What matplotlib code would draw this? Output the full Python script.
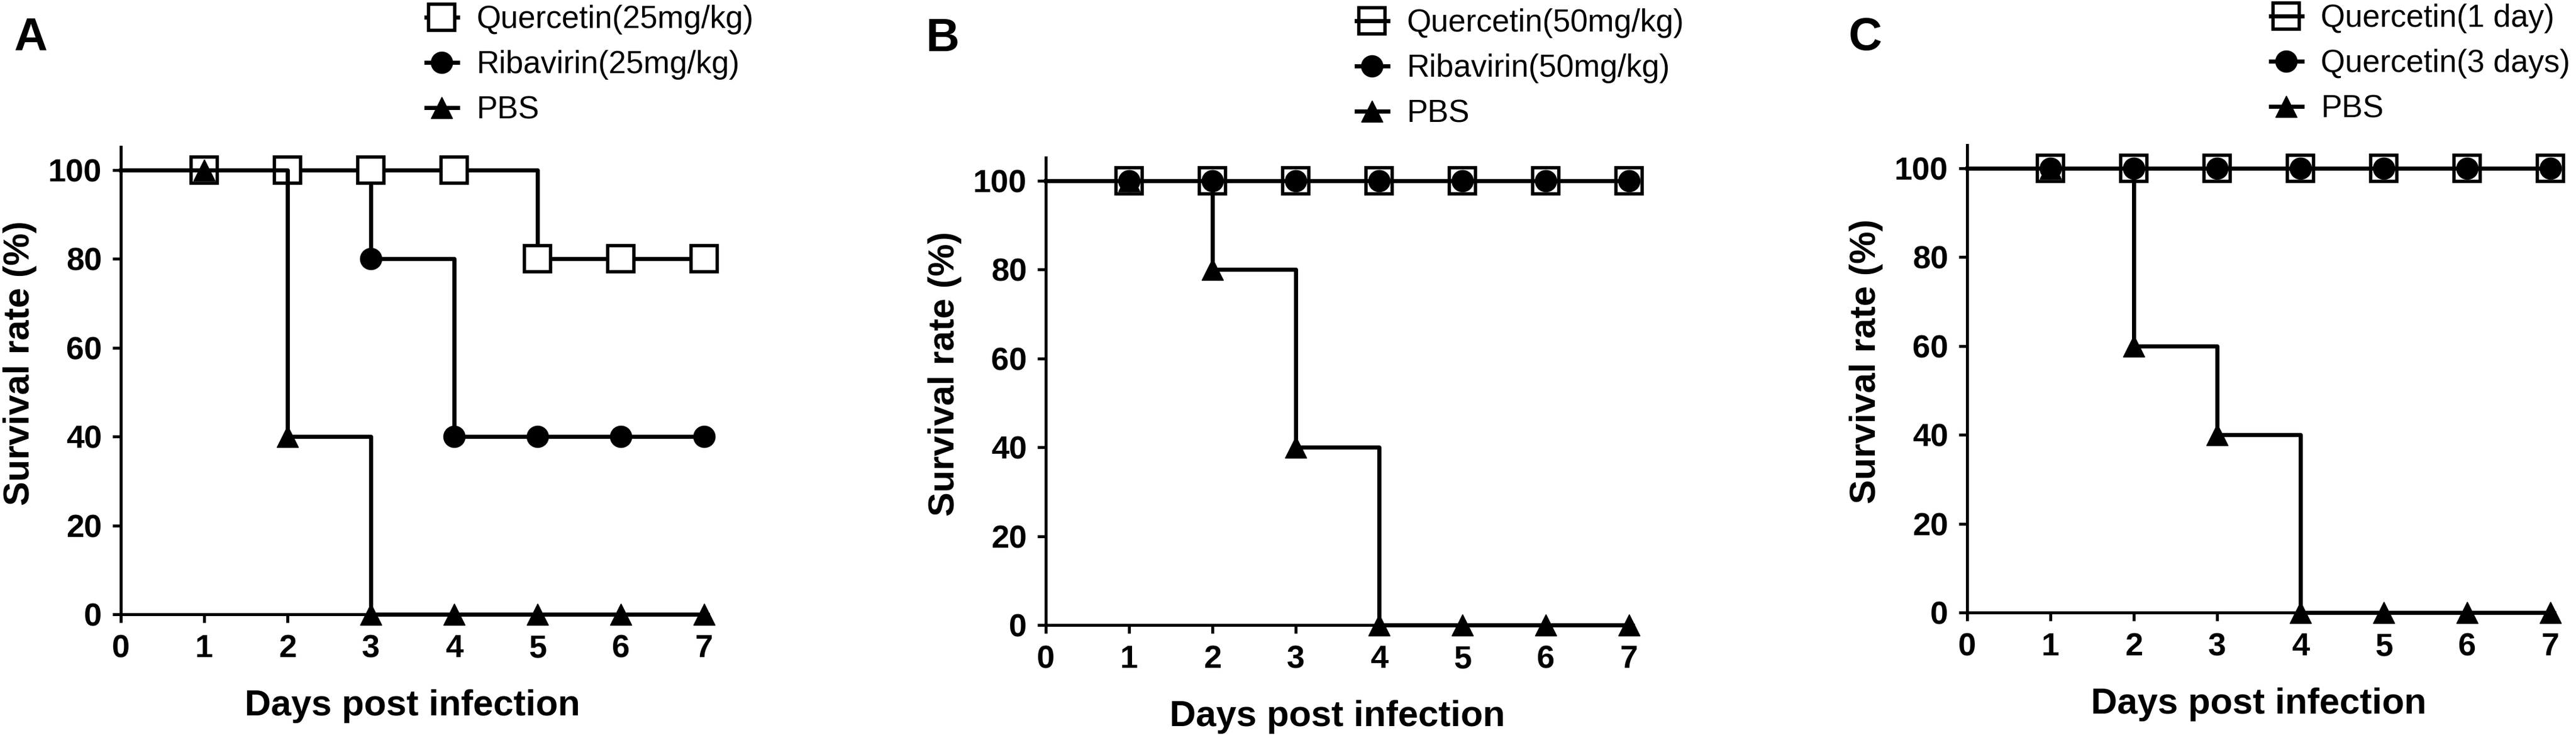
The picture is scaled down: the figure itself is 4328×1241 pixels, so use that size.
"""Survival curves for three treatment groups (panels A, B, C)"""

import matplotlib
matplotlib.use("Agg")
import matplotlib.pyplot as plt
from matplotlib.lines import Line2D

plt.rcParams["font.family"] = ["Liberation Sans", "DejaVu Sans"]

W, H = 4328, 1241

# data: day 0 is the start of the step line, markers from day 1
days = [0, 1, 2, 3, 4, 5, 6, 7]

a_labels = ["Quercetin(25mg/kg)", "Ribavirin(25mg/kg)", "PBS"]
a_quercetin = [100, 100, 100, 100, 100, 80, 80, 80]
a_ribavirin = [100, 100, 100, 80, 40, 40, 40, 40]
a_pbs = [100, 100, 40, 0, 0, 0, 0, 0]

b_labels = ["Quercetin(50mg/kg)", "Ribavirin(50mg/kg)", "PBS"]
b_quercetin = [100, 100, 100, 100, 100, 100, 100, 100]
b_ribavirin = [100, 100, 100, 100, 100, 100, 100, 100]
b_pbs = [100, 100, 80, 40, 0, 0, 0, 0]

c_labels = ["Quercetin(1 day)", "Quercetin(3 days)", "PBS"]
c_quercetin_1 = [100, 100, 100, 100, 100, 100, 100, 100]
c_quercetin_3 = [100, 100, 100, 100, 100, 100, 100, 100]
c_pbs = [100, 100, 60, 40, 0, 0, 0, 0]

y_ticks = [0, 20, 40, 60, 80, 100]
x_ticks = [0, 1, 2, 3, 4, 5, 6, 7]

LW = 5.0
TICK_FS = 39
LABEL_FS = 44
LEGEND_FS = 38


def px(x, y_top):
    """pixel position (from top-left) -> figure fraction"""
    return x / W, 1 - y_top / H


fig = plt.figure(figsize=(W / 100, H / 100), dpi=100)

# axes left/bottom in pixels, legend top-left in pixels from the top
panels = [
    dict(letter="A", left=203, bottom=208, letter_x=23, letter_y=84,
         leg_x=716, leg_y=8,
         series=[a_quercetin, a_ribavirin, a_pbs], labels=a_labels,
         sq_fill="white", z=(4, 3, 5)),
    dict(letter="B", left=1757, bottom=190, letter_x=1556, letter_y=86,
         leg_x=2279, leg_y=14,
         series=[b_quercetin, b_ribavirin, b_pbs], labels=b_labels,
         sq_fill="none", z=(4, 5, 3)),
    dict(letter="C", left=3305, bottom=211, letter_x=3106, letter_y=84,
         leg_x=3815, leg_y=6,
         series=[c_quercetin_1, c_quercetin_3, c_pbs], labels=c_labels,
         sq_fill="none", z=(4, 5, 3)),
]

XMAX = 7.05
YMAX = 105.2
AX_W = XMAX * 140
AX_H = YMAX * 7.47

for p in panels:
    ax = fig.add_axes([p["left"] / W, p["bottom"] / H, AX_W / W, AX_H / H])
    styles = [
        dict(marker="s", ms=31, mfc=p["sq_fill"], mew=4.0),
        dict(marker="o", ms=26, mfc="black", mew=1.0),
        dict(marker="^", ms=26, mfc="black", mew=1.0),
    ]
    handles = []
    for vals, st, z in zip(p["series"], styles, p["z"]):
        ax.plot(days, vals, drawstyle="steps-post", color="black",
                lw=LW, marker=st["marker"], ms=st["ms"],
                mfc=st["mfc"], mec="black", mew=st["mew"],
                markevery=list(range(1, len(days))),
                clip_on=False, zorder=z)
        handles.append(Line2D([], [], color="black", lw=LW,
                              marker=st["marker"], ms=st["ms"],
                              mfc=st["mfc"], mec="black", mew=st["mew"]))

    ax.set_xlim(0, XMAX)
    ax.set_ylim(0, YMAX)
    ax.set_xticks(x_ticks)
    ax.set_yticks(y_ticks)
    for side in ("top", "right"):
        ax.spines[side].set_visible(False)
    for side in ("left", "bottom"):
        ax.spines[side].set_linewidth(3.6)
    ax.tick_params(axis="both", direction="out", length=10, width=3.6,
                   labelsize=TICK_FS)
    ax.tick_params(axis="y", pad=13)
    ax.tick_params(axis="x", pad=14)
    for lab in ax.get_xticklabels() + ax.get_yticklabels():
        lab.set_fontweight("bold")

    ax.text(-169 / AX_W, 56.6, "Survival rate (%)", transform=ax.get_yaxis_transform(),
            rotation=90, ha="center", va="center", fontsize=LABEL_FS,
            fontweight="bold")
    ax.text(3.5, -170 / AX_H, "Days post infection", transform=ax.get_xaxis_transform(),
            ha="center", va="baseline", fontsize=LABEL_FS, fontweight="bold")

    fig.text(*px(p["letter_x"], p["letter_y"]), p["letter"], ha="left",
             va="baseline", fontsize=56, fontweight="bold")

    ax.legend(handles, p["labels"], loc="upper left",
              bbox_to_anchor=px(p["leg_x"], p["leg_y"]),
              bbox_transform=fig.transFigure, frameon=False,
              fontsize=LEGEND_FS, handlelength=1.0, handletextpad=0.6,
              labelspacing=0.5, borderpad=0, borderaxespad=0)

fig.savefig("out.png", dpi=100, facecolor="white")
